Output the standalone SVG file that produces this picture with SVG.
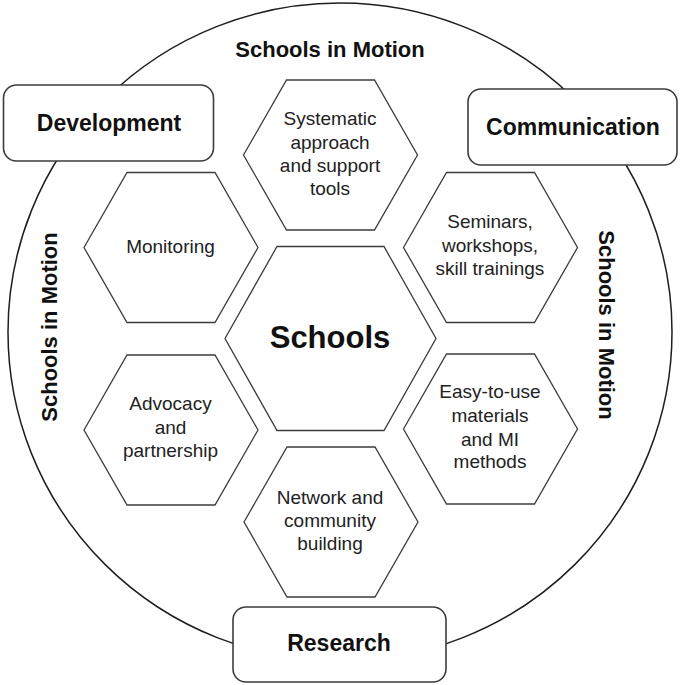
<svg xmlns="http://www.w3.org/2000/svg" xmlns:xlink="http://www.w3.org/1999/xlink" width="681" height="685" viewBox="0 0 681 685">
  <style>
    .ring { fill: none; stroke: #1e1e1e; stroke-width: 1.5; }
    .box { fill: #ffffff; stroke: #3c3c3c; stroke-width: 1.6; }
    .hex { fill: #ffffff; stroke: #3c3c3c; stroke-width: 1.3; }
    .boxlbl { font-family: "Liberation Sans", Arial, sans-serif; font-weight: bold; font-size: 23px; fill: #111111; text-anchor: middle; }
    .motion { font-family: "Liberation Sans", Arial, sans-serif; font-weight: bold; font-size: 22px; fill: #111111; text-anchor: middle; }
    .hexlbl { font-family: "Liberation Sans", Arial, sans-serif; font-size: 19px; fill: #222222; text-anchor: middle; }
    .center { font-family: "Liberation Sans", Arial, sans-serif; font-weight: bold; font-size: 31px; fill: #111111; text-anchor: middle; }
  </style>
  <defs>
    <polygon id="hexS" class="hex" points="-87,0 -44,-75 44,-75 87,0 44,75 -44,75"/>
    <polygon id="hexL" class="hex" points="-105.5,0 -53.5,-92 53.5,-92 105.5,0 53.5,92 -53.5,92"/>
  </defs>
  <rect width="681" height="685" fill="#ffffff"/>

  <g id="connectors">
    <ellipse class="ring" cx="340" cy="332" rx="332" ry="329"/>
  </g>

  <g id="motion-labels">
    <text class="motion" x="330" y="57">Schools in Motion</text>
    <text class="motion" transform="translate(57,327) rotate(-90)">Schools in Motion</text>
    <text class="motion" transform="translate(599,325) rotate(90)">Schools in Motion</text>
  </g>

  <g id="development">
    <rect class="box" x="3.5" y="85" width="210" height="76" rx="13"/>
    <text class="boxlbl" x="109" y="131">Development</text>
  </g>
  <g id="communication">
    <rect class="box" x="468" y="89" width="209" height="76" rx="13"/>
    <text class="boxlbl" x="573" y="135">Communication</text>
  </g>
  <g id="research">
    <rect class="box" x="233" y="607" width="213" height="75" rx="13"/>
    <text class="boxlbl" x="339" y="651">Research</text>
  </g>

  <g id="schools">
    <use xlink:href="#hexL" x="330.5" y="338.5"/>
    <text class="center" x="330" y="348">Schools</text>
  </g>

  <g id="systematic">
    <use xlink:href="#hexS" x="330.5" y="155"/>
    <text class="hexlbl" x="330" y="125">Systematic</text>
    <text class="hexlbl" x="330" y="149">approach</text>
    <text class="hexlbl" x="330" y="172">and support</text>
    <text class="hexlbl" x="330" y="195">tools</text>
  </g>

  <g id="monitoring">
    <use xlink:href="#hexS" x="171" y="247.5"/>
    <text class="hexlbl" x="170.5" y="253">Monitoring</text>
  </g>

  <g id="seminars">
    <use xlink:href="#hexS" x="490.5" y="247.5"/>
    <text class="hexlbl" x="490" y="228">Seminars,</text>
    <text class="hexlbl" x="490" y="252">workshops,</text>
    <text class="hexlbl" x="490" y="275">skill trainings</text>
  </g>

  <g id="advocacy">
    <use xlink:href="#hexS" x="171" y="430"/>
    <text class="hexlbl" x="170.5" y="410">Advocacy</text>
    <text class="hexlbl" x="170.5" y="434">and</text>
    <text class="hexlbl" x="170.5" y="457">partnership</text>
  </g>

  <g id="materials">
    <use xlink:href="#hexS" x="490.5" y="429"/>
    <text class="hexlbl" x="490" y="398">Easy-to-use</text>
    <text class="hexlbl" x="490" y="422">materials</text>
    <text class="hexlbl" x="490" y="446">and MI</text>
    <text class="hexlbl" x="490" y="468">methods</text>
  </g>

  <g id="network">
    <use xlink:href="#hexS" x="331" y="522"/>
    <text class="hexlbl" x="330" y="504">Network and</text>
    <text class="hexlbl" x="330" y="527">community</text>
    <text class="hexlbl" x="330" y="550">building</text>
  </g>
</svg>
